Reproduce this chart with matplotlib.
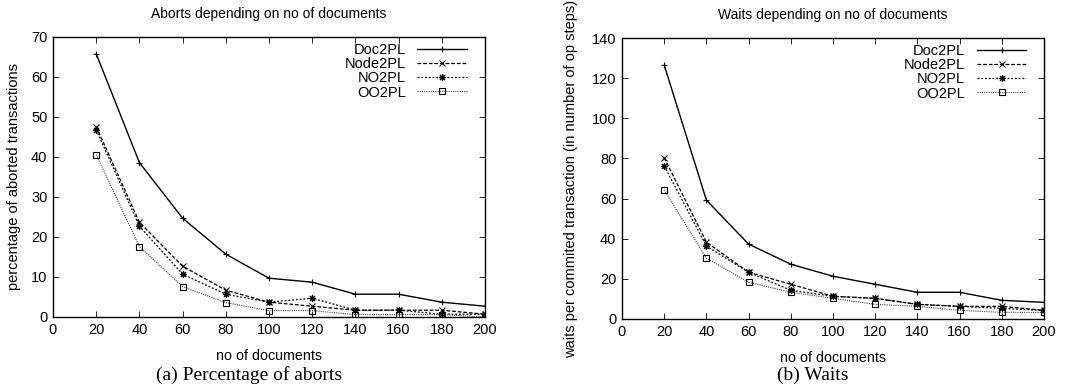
import matplotlib
matplotlib.use("Agg")
import matplotlib.pyplot as plt

docs = [20, 40, 60, 80, 100, 120, 140, 160, 180, 200]

# aborts (percentage of aborted transactions)
abort_doc2pl = [65.8, 38.6, 24.7, 15.7, 9.7, 8.7, 5.7, 5.7, 3.7, 2.7]
abort_node2pl = [47.6, 23.7, 12.7, 6.7, 3.7, 2.7, 1.7, 1.7, 1.7, 0.7]
abort_no2pl = [46.8, 22.7, 10.7, 5.7, 3.7, 4.7, 1.7, 1.7, 0.7, 0.7]
abort_oo2pl = [40.6, 17.6, 7.6, 3.6, 1.6, 1.6, 0.6, 0.6, 0.6, 0.0]

# waits per commited transaction
wait_doc2pl = [126.5, 59.2, 37.3, 27.3, 21.3, 17.3, 13.3, 13.3, 9.3, 8.3]
wait_node2pl = [80.3, 38.3, 23.3, 17.3, 11.3, 10.3, 7.3, 6.3, 6.3, 4.3]
wait_no2pl = [76.3, 36.3, 23.3, 14.3, 11.3, 10.3, 7.3, 6.3, 5.3, 4.3]
wait_oo2pl = [64.3, 30.3, 18.3, 13.3, 10.3, 7.3, 6.3, 4.3, 3.3, 3.3]

labels = ['Doc2PL', 'Node2PL', 'NO2PL', 'OO2PL']

plt.rcParams['font.family'] = ['Liberation Sans', 'DejaVu Sans']

fig = plt.figure(figsize=(10.78, 3.9), dpi=100)
ax1 = fig.add_axes([53/1078, 73/390, 432/1078, 280/390])
ax2 = fig.add_axes([622/1078, 71/390, 422/1078, 281/390])

styles = [
    dict(color='black', ls='-', lw=1.0, marker='+', ms=5, mew=0.8),
    dict(color='black', ls=(0, (3, 1.5)), lw=0.9, marker='x', ms=4, mew=0.8),
    dict(color='black', ls=(0, (1.5, 1.5)), lw=0.9, marker=(8, 2, 0), ms=5, mew=0.8),
    dict(color='#444444', ls=(0, (1, 1)), lw=0.8, marker='s', ms=4.5, mew=0.8, mfc='none', mec='black'),
]

def draw(ax, series, ymax, ystep, title, ylabel, caption, cx, tpad, ylpad, anchor):
    for y, lab, st in zip(series, labels, styles):
        ax.plot(docs, y, label=lab, **st)
    ax.set_xlim(0, 200)
    ax.set_ylim(0, ymax)
    ax.set_xticks(range(0, 201, 20))
    ax.set_yticks(range(0, ymax + 1, ystep))
    ax.tick_params(direction='in', top=True, right=True, labelsize=10.5, length=4, width=0.6, pad=4)
    for s in ax.spines.values():
        s.set_linewidth(1.0)
    ax.set_title(title, fontsize=10, pad=tpad)
    ax.set_xlabel('no of documents', fontsize=10.3, labelpad=9)
    ax.set_ylabel(ylabel, fontsize=10.5, labelpad=ylpad)
    leg = ax.legend(loc='upper right', bbox_to_anchor=anchor, frameon=False, markerfirst=False,
                    fontsize=10.5, handlelength=3.4, labelspacing=0.02, borderaxespad=0,
                    borderpad=0.2, handletextpad=0.8)
    # right-align the entries like gnuplot does
    for col in leg._legend_handle_box.get_children():
        col.align = 'right'
    fig.text(cx, 15/390, caption, ha='center', va='center',
             family='Liberation Serif', fontsize=14)

draw(ax1, [abort_doc2pl, abort_node2pl, abort_no2pl, abort_oo2pl], 70, 10,
     'Aborts depending on no of documents', 'percentage of aborted transactions',
     '(a) Percentage of aborts', 249/1078, 14, 7, (0.965, 0.99))
draw(ax2, [wait_doc2pl, wait_node2pl, wait_no2pl, wait_oo2pl], 140, 20,
     'Waits depending on no of documents',
     'waits per commited transaction (in number of op steps)', '(b) Waits', 813/1078, 14, 10,
     (0.965, 0.99))

fig.savefig('out.png', dpi=100)
